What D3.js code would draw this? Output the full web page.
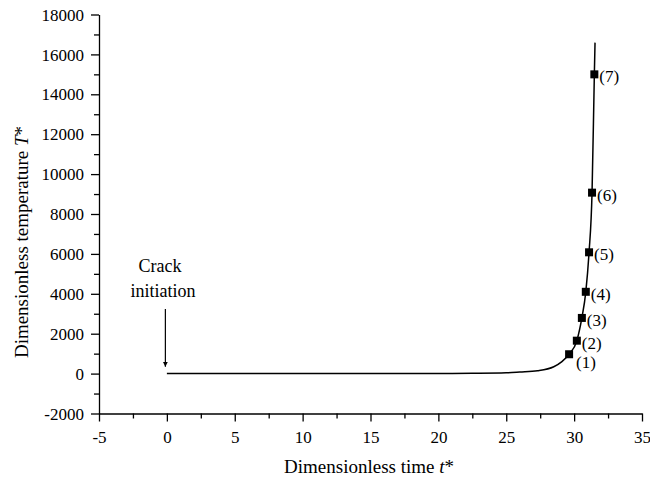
<!DOCTYPE html>
<html>
<head>
<meta charset="utf-8">
<script src="https://cdn.jsdelivr.net/npm/d3@7"></script>
<style>
  html, body { margin: 0; padding: 0; background: #fff; }
  svg text { font-family: "Liberation Serif", "Times New Roman", serif; fill: #000; }
</style>
</head>
<body>
<svg id="chart" width="650" height="481"></svg>
<script>
// Temperature history of the crack tip (dimensionless units)
const curveTime = [0, 5, 10, 15, 20, 22.5, 25, 26, 27.3, 28.5, 29.1, 29.63, 30.2, 30.57, 30.86, 31.1, 31.32, 31.49, 31.54];
const curveTemp = [0, 0, 0, 0, 5, 15, 40, 80, 145, 345, 600, 970, 1650, 2790, 4100, 6080, 9070, 15000, 16590];

// Marked states (1)-(7)
const markTime = [29.63, 30.2, 30.57, 30.86, 31.1, 31.32, 31.49];
const markTemp = [970, 1650, 2790, 4100, 6080, 9070, 15000];
const markLabels = ["(1)", "(2)", "(3)", "(4)", "(5)", "(6)", "(7)"];

const xTicks = [-5, 0, 5, 10, 15, 20, 25, 30, 35];
const yTicks = [-2000, 0, 2000, 4000, 6000, 8000, 10000, 12000, 14000, 16000, 18000];

const svg = d3.select("#chart");
const plotLeft = 99, plotRight = 642, plotTop = 14.5, plotBottom = 413.5;
const serif = "Liberation Serif";

const x = d3.scaleLinear().domain([-5, 35]).range([plotLeft, plotRight]);
const y = d3.scaleLinear().domain([-2000, 18000]).range([plotBottom, plotTop]);

// Minor ticks halfway between the labelled ones
const xMinor = d3.range(-5, 35.01, 2.5).filter(v => !xTicks.includes(v));
const yMinor = d3.range(-2000, 18001, 1000).filter(v => !yTicks.includes(v));
const plain = d => String(d);

const xAxis = svg.append("g").attr("transform", `translate(0,${plotBottom})`);
xAxis.call(d3.axisBottom(x).tickValues(xTicks).tickSize(8).tickSizeOuter(0).tickFormat(plain));
xAxis.append("g").call(d3.axisBottom(x).tickValues(xMinor).tickSize(5).tickFormat(""))
  .call(g => g.select(".domain").remove());

const yAxis = svg.append("g").attr("transform", `translate(${plotLeft},0)`);
yAxis.call(d3.axisLeft(y).tickValues(yTicks).tickSize(8).tickSizeOuter(0).tickFormat(plain));
yAxis.append("g").call(d3.axisLeft(y).tickValues(yMinor).tickSize(5).tickFormat(""))
  .call(g => g.select(".domain").remove());

svg.selectAll("g").attr("font-family", serif);
svg.selectAll(".domain, .tick line").attr("stroke", "#000").attr("stroke-width", 1.3);
xAxis.selectAll(".tick text").attr("font-size", 17).attr("y", 29.5).attr("dy", 0);
yAxis.selectAll(".tick text").attr("font-size", 17).attr("x", -15).attr("dy", "0.33em");

// Axis titles
const xt = svg.append("text").attr("x", 369).attr("y", 473)
  .attr("text-anchor", "middle").attr("font-size", 19);
xt.append("tspan").text("Dimensionless time ");
xt.append("tspan").attr("font-style", "italic").text("t");
xt.append("tspan").text("*");

const yt = svg.append("text").attr("transform", "translate(28,242) rotate(-90)")
  .attr("text-anchor", "middle").attr("font-size", 19);
yt.append("tspan").text("Dimensionless temperature ");
yt.append("tspan").attr("font-style", "italic").text("T");
yt.append("tspan").text("*");

// Curve
const pts = curveTime.map((t, i) => [t, curveTemp[i]]);
svg.append("path").datum(pts)
  .attr("fill", "none").attr("stroke", "#000").attr("stroke-width", 1.5)
  .attr("d", d3.line().x(d => x(d[0])).y(d => y(d[1])).curve(d3.curveMonotoneX));

// Markers and labels
const marks = markTime.map((t, i) => ({ t, T: markTemp[i], label: markLabels[i] }));
svg.selectAll("rect.mark").data(marks).join("rect").attr("class", "mark")
  .attr("x", d => x(d.t) - 4).attr("y", d => y(d.T) - 4)
  .attr("width", 8).attr("height", 8).attr("fill", "#000");
svg.selectAll("text.mlab").data(marks).join("text").attr("class", "mlab")
  .attr("x", d => x(d.t) + (d.label === "(1)" ? 7 : 5))
  .attr("y", d => y(d.T) + (d.label === "(1)" ? 14 : 8))
  .attr("font-size", 17).text(d => d.label);

// Crack initiation annotation
svg.append("defs").append("marker").attr("id", "arrow")
  .attr("viewBox", "0 0 10 10").attr("refX", 10).attr("refY", 5)
  .attr("markerWidth", 5).attr("markerHeight", 8).attr("orient", "auto")
  .attr("markerUnits", "userSpaceOnUse")
  .append("path").attr("d", "M0,0 L10,5 L0,10 Z").attr("fill", "#000");
svg.append("line")
  .attr("x1", x(0) - 1.5).attr("x2", x(0) - 1.5)
  .attr("y1", y(3240)).attr("y2", y(345))
  .attr("stroke", "#000").attr("stroke-width", 1.2).attr("marker-end", "url(#arrow)");
svg.append("text").attr("x", 160).attr("y", 272).attr("text-anchor", "middle")
  .attr("font-size", 18).text("Crack");
svg.append("text").attr("x", 163).attr("y", 297).attr("text-anchor", "middle")
  .attr("font-size", 18).text("initiation");
</script>
</body>
</html>
